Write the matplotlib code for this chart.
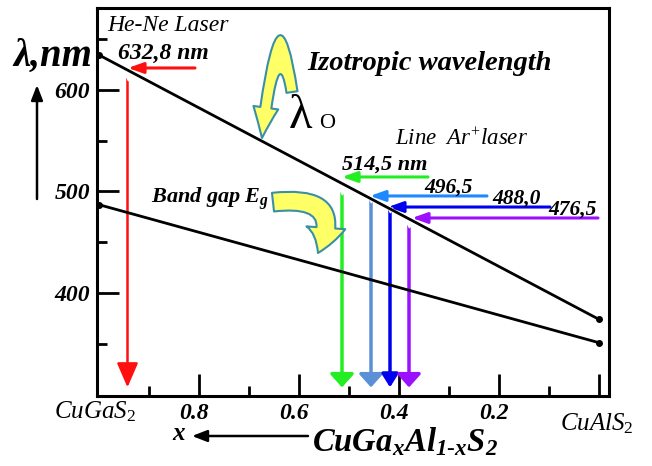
import numpy as np
import matplotlib.pyplot as plt
import matplotlib.transforms as mtransforms
from matplotlib.patches import FancyArrowPatch
from matplotlib.path import Path

plt.rcParams['font.family'] = ['Liberation Serif', 'DejaVu Serif']
plt.rcParams['mathtext.fontset'] = 'custom'
plt.rcParams['mathtext.rm'] = 'Liberation Serif'
plt.rcParams['mathtext.it'] = 'Liberation Serif:italic'
plt.rcParams['mathtext.bf'] = 'Liberation Serif:bold:italic'

# composition x of CuGa(x)Al(1-x)S2 at the two ends
x_ends = [1.0, 0.0]
iso_line = [634.5, 374.0]   # isotropic wavelength
gap_line = [487.0, 351.0]   # band gap Eg

# laser lines
laser_labels = ['632,8 nm', '514,5 nm', '496,5', '488,0', '476,5']
h_colors = ['#ff1010', '#22ee22', '#1e88ff', '#0000ee', '#9a10ff']
v_colors = ['#ff1010', '#22ee22', '#5b8fd6', '#0000ee', '#9a10ff']
laser_level = [621.7, 514.3, 495.6, 484.7, 473.9]
arrow_from_x = [0.808, 0.342, 0.224, 0.098, 0.002]
arrow_to_x = [0.942, 0.514, 0.458, 0.422, 0.374]
drop_x = [0.943, 0.514, 0.456, 0.418, 0.380]
drop_top = [612.0, 499.5, 491.6, 482.0, 467.0]
drop_bottom = 307.0

W, H = 652, 466
fig = plt.figure(figsize=(W / 100, H / 100), dpi=100)
ax = fig.add_axes([97 / W, 1 - 396 / H, 512 / W, 388 / H])
ax.set_xlim(1.004, -0.02)
ax.set_ylim(298.5, 680.8)

def ftext(px, py, s, **kw):
    fig.text(px / W, 1 - py / H, s, ha='left', va='baseline', **kw)

# the two lines
ax.plot(x_ends, iso_line, color='black', lw=2, marker='o', ms=4, clip_on=False, zorder=5)
ax.plot(x_ends, gap_line, color='black', lw=2, marker='o', ms=4, clip_on=False, zorder=5)

# laser arrows
for i in range(len(laser_labels)):
    ax.add_patch(FancyArrowPatch((arrow_from_x[i], laser_level[i]), (arrow_to_x[i], laser_level[i]),
                                 arrowstyle='-|>,head_length=0.9,head_width=0.32', mutation_scale=10,
                                 lw=2.2, color=h_colors[i], shrinkA=0, shrinkB=0, zorder=4))
    if i == 0:
        style = '-|>,head_length=1.5,head_width=0.65'
        lw = 1.8
    elif i == 3:
        style = '-|>,head_length=0.8,head_width=0.5'
        lw = 2.5
    else:
        style = '-|>,head_length=0.8,head_width=0.72'
        lw = 2.5
    ax.add_patch(FancyArrowPatch((drop_x[i], drop_top[i]), (drop_x[i], drop_bottom),
                                 arrowstyle=style, mutation_scale=10, lw=lw,
                                 color=v_colors[i], shrinkA=0, shrinkB=0, zorder=3))
    ax.plot(drop_x[i], drop_top[i], marker='v', ms=3.5, color='white', mec='white', zorder=4)

# curved yellow arrows
hook = Path([(0.614, 598.0), (0.642, 690.0), (0.674, 552.7)],
            [Path.MOVETO, Path.CURVE3, Path.CURVE3])
ax.add_patch(FancyArrowPatch(path=hook, arrowstyle='simple,head_length=2.2,head_width=1.8,tail_width=0.8',
                             mutation_scale=10, fc='#ffff66', ec='#3a8fa8', lw=1.5, clip_on=False, zorder=6))
hook2 = Path([(0.652, 489.5), (0.505, 497.5), (0.562, 439.4)],
             [Path.MOVETO, Path.CURVE3, Path.CURVE3])
ax.add_patch(FancyArrowPatch(path=hook2, arrowstyle='simple,head_length=1.9,head_width=2.8,tail_width=1.35',
                             mutation_scale=10, fc='#ffff66', ec='#3a8fa8', lw=1.5, clip_on=False, zorder=6))

# axes look
for s in ax.spines.values():
    s.set_linewidth(2.2)
ax.set_xticks([0.8, 0.6, 0.4, 0.2, 0.0])
ax.set_xticklabels(['0.8', '0.6', '0.4', '0.2', ''])
ax.set_xticks([0.9, 0.7, 0.5, 0.3, 0.1], minor=True)
ax.set_yticks([400, 500, 600])
ax.set_yticks([350, 450, 550, 650], minor=True)
ax.tick_params(which='both', direction='in', width=2, top=False, right=False)
ax.tick_params(which='major', length=16, pad=5)
ax.tick_params(which='minor', length=7)
shift = mtransforms.ScaledTranslation(-0.05, 0, fig.dpi_scale_trans)
for lab in ax.get_xticklabels() + ax.get_yticklabels():
    lab.set_fontsize(17)
    lab.set_fontweight('bold')
    lab.set_fontstyle('italic')
for lab in ax.get_xticklabels():
    lab.set_transform(lab.get_transform() + shift)

# texts
ftext(107, 31, 'He-Ne Laser', fontsize=17, style='italic')
ftext(118, 59, '632,8 nm', fontsize=17, style='italic', weight='bold')
ftext(307, 70, 'Izotropic wavelength', fontsize=20.5, style='italic', weight='bold')
ftext(289, 128, 'λ', fontsize=35)
ftext(319, 128, 'O', fontsize=16)
ftext(395, 145, r'$\mathit{Line\ \ Ar^{+}laser}$', fontsize=16.5)
ftext(342, 170, '514,5 nm', fontsize=16, style='italic', weight='bold')
ftext(424, 193, '496,5', fontsize=15.5, style='italic', weight='bold')
ftext(492, 204, '488,0', fontsize=15.5, style='italic', weight='bold')
ftext(548, 215, '476,5', fontsize=15.5, style='italic', weight='bold')
ftext(151, 203, r'$\mathbf{Band\ gap\ E_g}$', fontsize=16)
ftext(13, 66, 'λ,nm', fontsize=28, style='italic', weight='bold')
ftext(54, 418, r'$\mathit{CuGaS_2}$', fontsize=18)
ftext(560, 430, r'$\mathit{CuAlS_2}$', fontsize=18)
ftext(172, 440, 'x', fontsize=18, style='italic', weight='bold')
ftext(312, 451, r'$\mathbf{CuGa_xAl_{1\text{-}x}S_2}$', fontsize=23.5)

# direction arrows outside the axes
fig.patches.append(FancyArrowPatch((37 / W, 1 - 199 / H), (37 / W, 1 - 85 / H), transform=fig.transFigure,
                                   arrowstyle='-|>,head_length=0.9,head_width=0.35', mutation_scale=10,
                                   lw=1.8, color='black', shrinkA=0, shrinkB=0))
fig.patches.append(FancyArrowPatch((308 / W, 1 - 436 / H), (192 / W, 1 - 436 / H), transform=fig.transFigure,
                                   arrowstyle='-|>,head_length=0.9,head_width=0.35', mutation_scale=10,
                                   lw=1.8, color='black', shrinkA=0, shrinkB=0))

fig.savefig('out.png', dpi=100)
